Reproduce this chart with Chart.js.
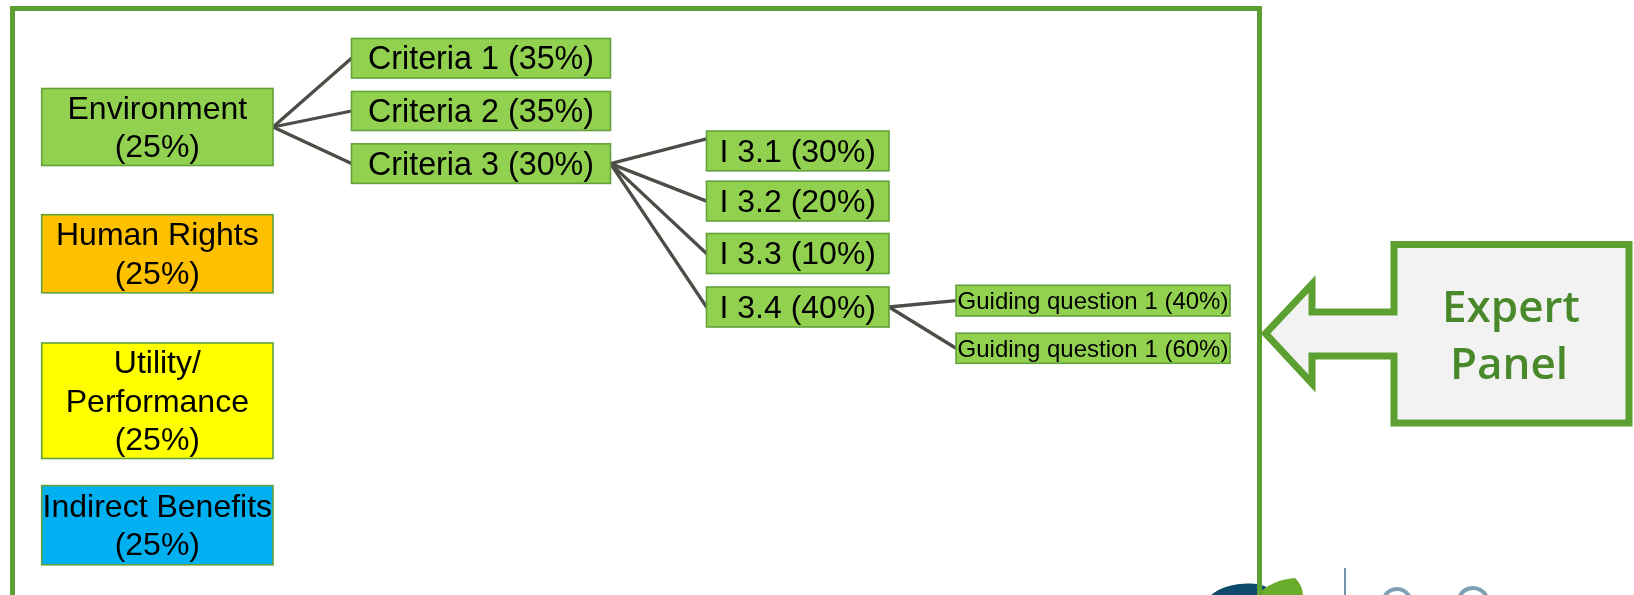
<!DOCTYPE html>
<html>
<head>
<meta charset="utf-8">
<script src="https://cdn.jsdelivr.net/npm/chart.js@4.4.1/dist/chart.umd.min.js"></script>
<style>
  html, body { margin: 0; padding: 0; background: #ffffff; overflow: hidden; }
  #wrap { width: 1634px; height: 595px; }
</style>
</head>
<body>
<div id="wrap"><canvas id="c" width="1634" height="595"></canvas></div>
<script>
// ---------- DATA ----------
const nodeNames   = ['Environment', 'Human Rights', 'Utility/\nPerformance', 'Indirect Benefits',
                     'Criteria 1', 'Criteria 2', 'Criteria 3',
                     'I 3.1', 'I 3.2', 'I 3.3', 'I 3.4',
                     'Guiding question 1', 'Guiding question 1'];
const nodeWeights = [25, 25, 25, 25, 35, 35, 30, 30, 20, 10, 40, 40, 60];
const nodeParents = [-1, -1, -1, -1, 0, 0, 0, 6, 6, 6, 6, 10, 10];
const nodeLevels  = [0, 0, 0, 0, 1, 1, 1, 2, 2, 2, 2, 3, 3];
const panelLabel  = ['Expert', 'Panel'];

// ---------- LAYOUT / STYLE (axis units = px of the slide) ----------
const layout = {
  columns: [[41.7, 273], [351.5, 610.5], [706.5, 889], [956, 1230]],
  rows: [[88.5, 165.5], [214.7, 292.8], [343, 458.5], [485.6, 564.8],
         [38.5, 78], [91.5, 130.5], [143.8, 183.4],
         [131, 170.8], [181.2, 221], [233.5, 273.5], [287, 327],
         [285.3, 316], [333.2, 363.3]],
  childAnchor: [0.5, 0.5, 0.5, 0.5, 0.5, 0.5, 0.5, 0.2, 0.5, 0.5, 0.5, 0.5, 0.5],
  fonts: [32, 32.3, 32, 24],
  lineGap: 38.5,
  stretch: 1,
  fills: ['#92d050', '#ffc000', '#ffff00', '#00b0f0'],
  boxFill: '#92d050',
  boxBorder: '#62a23a',
  link: '#4d4c47',
  frameColor: '#5ca032'
};

function nodeLines(i) {
  const pct = '(' + nodeWeights[i] + '%)';
  if (nodeLevels[i] === 0) return nodeNames[i].split('\n').concat([pct]);
  return [nodeNames[i] + ' ' + pct];
}

// connector datasets built from the tree
const linkSets = [];
nodeParents.forEach((p, i) => {
  if (p < 0) return;
  const pc = layout.columns[nodeLevels[p]], cc = layout.columns[nodeLevels[i]];
  const pr = layout.rows[p], cr = layout.rows[i];
  const a = layout.childAnchor[i];
  linkSets.push({
    type: 'line',
    data: [{ x: pc[1], y: (pr[0] + pr[1]) / 2 }, { x: cc[0], y: cr[0] + (cr[1] - cr[0]) * a }],
    borderColor: layout.link, borderWidth: 3.3, pointRadius: 0, showLine: true,
    fill: false, tension: 0, borderCapStyle: 'round'
  });
});

const nodeSet = {
  type: 'scatter',
  label: 'nodes',
  data: nodeNames.map((n, i) => ({
    x: (layout.columns[nodeLevels[i]][0] + layout.columns[nodeLevels[i]][1]) / 2,
    y: (layout.rows[i][0] + layout.rows[i][1]) / 2
  })),
  pointRadius: 0
};

const diagramPlugin = {
  id: 'diagram',
  beforeDatasetsDraw(chart) {
    const ctx = chart.ctx, xs = chart.scales.x, ys = chart.scales.y;
    ctx.save();
    // logo fragments (bottom right)
    ctx.fillStyle = '#0d4a6b';
    ctx.beginPath();
    ctx.ellipse(xs.getPixelForValue(1240), ys.getPixelForValue(600), 34, 16, -0.15, 0, Math.PI * 2);
    ctx.fill();
    ctx.fillStyle = '#6aac2c';
    ctx.beginPath();
    ctx.moveTo(xs.getPixelForValue(1255), ys.getPixelForValue(597));
    ctx.quadraticCurveTo(xs.getPixelForValue(1270), ys.getPixelForValue(580), xs.getPixelForValue(1295), ys.getPixelForValue(578));
    ctx.quadraticCurveTo(xs.getPixelForValue(1303), ys.getPixelForValue(585), xs.getPixelForValue(1303), ys.getPixelForValue(597));
    ctx.closePath();
    ctx.fill();
    ctx.strokeStyle = '#3f6f8c';
    ctx.lineWidth = 1.5;
    ctx.beginPath();
    ctx.moveTo(xs.getPixelForValue(1345), ys.getPixelForValue(568));
    ctx.lineTo(xs.getPixelForValue(1345), ys.getPixelForValue(596));
    ctx.stroke();
    ctx.strokeStyle = '#7f9fb5';
    ctx.lineWidth = 4;
    ctx.beginPath();
    ctx.arc(xs.getPixelForValue(1397), ys.getPixelForValue(603), 14, Math.PI * 1.15, Math.PI * 1.85);
    ctx.stroke();
    ctx.beginPath();
    ctx.arc(xs.getPixelForValue(1473), ys.getPixelForValue(603), 15, Math.PI * 1.15, Math.PI * 1.85);
    ctx.stroke();

    // outer frame
    ctx.strokeStyle = layout.frameColor;
    ctx.lineWidth = 5;
    ctx.strokeRect(xs.getPixelForValue(12.5), ys.getPixelForValue(8.5),
                   xs.getPixelForValue(1259.5) - xs.getPixelForValue(12.5),
                   ys.getPixelForValue(640) - ys.getPixelForValue(8.5));

    // expert panel arrow-callout
    const P = [[1394, 244.5], [1629, 244.5], [1629, 423], [1394, 423], [1394, 356], [1312, 356],
               [1312, 383.5], [1265.5, 333.5], [1312, 284], [1312, 312], [1394, 312]];
    ctx.beginPath();
    P.forEach((p, k) => {
      const px = xs.getPixelForValue(p[0]), py = ys.getPixelForValue(p[1]);
      if (k === 0) ctx.moveTo(px, py); else ctx.lineTo(px, py);
    });
    ctx.closePath();
    ctx.fillStyle = '#f2f2f2';
    ctx.fill();
    ctx.strokeStyle = '#5ca032';
    ctx.lineWidth = 7;
    ctx.lineJoin = 'miter';
    ctx.stroke();
    ctx.fillStyle = '#4a892b';
    ctx.font = '600 44px "Open Sans"';
    ctx.textAlign = 'center';
    ctx.textBaseline = 'alphabetic';
    ctx.fillText(panelLabel[0], xs.getPixelForValue(1511), ys.getPixelForValue(322));
    ctx.fillText(panelLabel[1], xs.getPixelForValue(1509), ys.getPixelForValue(379));
    ctx.restore();
  },
  afterDatasetsDraw(chart) {
    const ctx = chart.ctx, xs = chart.scales.x, ys = chart.scales.y;
    ctx.save();
    nodeNames.forEach((n, i) => {
      const lv = nodeLevels[i];
      const c = layout.columns[lv], r = layout.rows[i];
      const x0 = xs.getPixelForValue(c[0]), x1 = xs.getPixelForValue(c[1]);
      const y0 = ys.getPixelForValue(r[0]), y1 = ys.getPixelForValue(r[1]);
      ctx.fillStyle = lv === 0 ? layout.fills[i] : layout.boxFill;
      ctx.fillRect(x0, y0, x1 - x0, y1 - y0);
      ctx.strokeStyle = layout.boxBorder;
      ctx.lineWidth = 1.6;
      ctx.strokeRect(x0, y0, x1 - x0, y1 - y0);
      const lines = nodeLines(i);
      const fs = layout.fonts[lv];
      ctx.font = fs + 'px "Liberation Sans", Arial, sans-serif';
      ctx.fillStyle = '#000000';
      ctx.textAlign = 'center';
      ctx.textBaseline = 'middle';
      const cx = (x0 + x1) / 2, cy = (y0 + y1) / 2 + 2;
      lines.forEach((t, k) => {
        const ly = cy + (k - (lines.length - 1) / 2) * layout.lineGap;
        ctx.save();
        ctx.translate(cx, ly);
        ctx.scale(layout.stretch, 1);
        ctx.fillText(t, 0, 0);
        ctx.restore();
      });
    });
    ctx.restore();
  }
};

new Chart(document.getElementById('c'), {
  type: 'scatter',
  data: { datasets: linkSets.concat([nodeSet]) },
  options: {
    responsive: false,
    animation: false,
    devicePixelRatio: 1,
    layout: { padding: 0 },
    plugins: { legend: { display: false }, tooltip: { enabled: false }, title: { display: false } },
    scales: {
      x: { type: 'linear', min: 0, max: 1634, display: false },
      y: { type: 'linear', min: 0, max: 595, reverse: true, display: false }
    }
  },
  plugins: [diagramPlugin]
});
</script>
</body>
</html>
